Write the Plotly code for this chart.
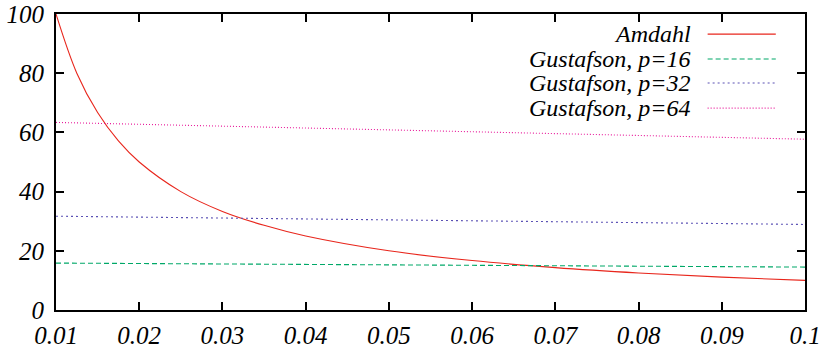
import plotly.graph_objects as go

# Serial fraction f and the corresponding speedups
f_amdahl = [0.01, 0.0125, 0.015, 0.0175, 0.02, 0.025, 0.03, 0.035, 0.04,
            0.05, 0.06, 0.07, 0.08, 0.09, 0.1]
s_amdahl = [100, 80, 66.7, 57.1, 50, 40, 33.3, 28.6, 25,
            20, 16.7, 14.3, 12.5, 11.1, 10]

f_gust = [0.01, 0.1]
s_gust16 = [15.85, 14.5]
s_gust32 = [31.69, 28.9]
s_gust64 = [63.37, 57.7]

names = ["Amdahl", "Gustafson, p=16", "Gustafson, p=32", "Gustafson, p=64"]
colors = ["#e8261c", "#00a868", "#5a50b4", "#e8189a"]
dashes = ["solid", "5px,3px", "2px,3px", "1px,2px"]

xt_vals = [0.01, 0.02, 0.03, 0.04, 0.05, 0.06, 0.07, 0.08, 0.09, 0.1]
xt_text = ["0.01", "0.02", "0.03", "0.04", "0.05", "0.06", "0.07", "0.08", "0.09", "0.1"]
yt_vals = [0, 20, 40, 60, 80, 100]

FONT = "Liberation Serif, Times New Roman, serif"
label_font = dict(family=FONT, size=24, color="black", style="italic")
tick_font = dict(family=FONT, size=25, color="black", style="italic")

fig = go.Figure()
series = [(f_amdahl, s_amdahl, "spline"), (f_gust, s_gust16, "linear"),
          (f_gust, s_gust32, "linear"), (f_gust, s_gust64, "linear")]
for (xs, ys, shape), name, c, d in zip(series, names, colors, dashes):
    fig.add_trace(go.Scatter(x=xs, y=ys, mode="lines", name=name,
                             line=dict(color=c, width=1.1, dash=d, shape=shape),
                             showlegend=False))

# Key in the top-right corner: right-aligned label followed by a line sample
key_y = [0.932, 0.848, 0.767, 0.682]
for name, c, d, ky in zip(names, colors, dashes, key_y):
    fig.add_annotation(x=0.851, y=ky, xref="paper", yref="paper", text=name,
                       showarrow=False, xanchor="right", yanchor="middle",
                       font=label_font)
    fig.add_shape(type="line", xref="paper", yref="paper",
                  x0=0.870, x1=0.961, y0=ky, y1=ky,
                  line=dict(color=c, width=1.1, dash=d))

axis_common = dict(showgrid=False, zeroline=False, showline=True, mirror="ticks",
                   linecolor="black", linewidth=2, ticks="inside", ticklen=8,
                   tickwidth=1.5, tickcolor="black", automargin=False,
                   tickfont=tick_font)

fig.update_xaxes(range=[0.01, 0.1], tickvals=xt_vals, ticktext=xt_text,
                 ticklabelstandoff=2, **axis_common)
fig.update_yaxes(range=[0, 100], tickvals=yt_vals, ticklabelstandoff=5, **axis_common)

fig.update_layout(width=826, height=351,
                  margin=dict(l=56, r=21, t=14, b=41, autoexpand=False),
                  plot_bgcolor="white", paper_bgcolor="white",
                  font=label_font)

fig.write_html("out.html")
